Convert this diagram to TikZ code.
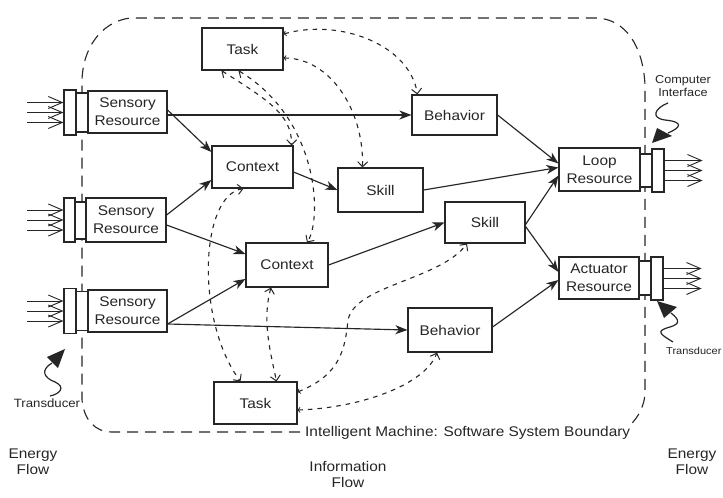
\documentclass[tikz,border=0pt]{standalone}
\usepackage{fontspec}
\setmainfont{Liberation Sans}[FakeStretch=1.1]
\usetikzlibrary{arrows.meta,calc}
\definecolor{ink}{gray}{0.15}
\begin{document}
\begin{tikzpicture}[x=1pt,y=-1pt,
  box/.style={draw=ink,line width=1.15pt,fill=white,inner sep=0pt,align=center,
              text=ink,font=\fontsize{14}{18}\selectfont},
  port/.style={draw=ink,line width=1.15pt,fill=white,inner sep=0pt},
  flow/.style={draw=ink,line width=1.15pt,-{Stealth[length=12pt,width=9pt,inset=3.5pt]}},
  ctl/.style={draw=ink,line width=1.1pt,dash pattern=on 4.5pt off 5pt},
  vee/.tip={Straight Barb[length=5pt,width=10pt,line width=1pt]},
  tick/.tip={Straight Barb[length=2pt,width=5pt,line width=0.8pt]},
  energy/.style={draw=ink,line width=1pt,-{Straight Barb[length=14pt,width=12pt,line width=0.9pt]}},
  bnd/.style={draw=ink,line width=1.1pt,dash pattern=on 11pt off 7pt},
  lbl/.style={text=ink,inner sep=0pt,align=center,font=\fontsize{14}{16}\selectfont},
  small/.style={text=ink,inner sep=0pt,align=center,font=\fontsize{11.5}{12.5}\selectfont},
  squig/.style={draw=ink,line width=1.2pt}]

\useasboundingbox (0,0) rectangle (723,498);
\fill[white] (0,0) rectangle (723,498);

% system boundary
\draw[bnd] (300,432) -- (112,432) .. controls (95,432) and (84,420) .. (82,400)
  -- (82,82) .. controls (82,50) and (100,22) .. (130,18) -- (598,18)
  .. controls (625,20) and (643,45) .. (645,85) -- (645,392)
  .. controls (645,405) and (638,418) .. (630,425);
\node[lbl,anchor=west] (sysb) at (305,433) {Intelligent Machine: Software System Boundary};

% sensory resources with their interfaces
\node[box,minimum width=79pt,minimum height=42pt] (sens1) at (127.5,112) {Sensory\\Resource};
\node[port,minimum width=12pt,minimum height=45pt] (s1a) at (70,112.5) {};
\node[port,minimum width=12pt,minimum height=39pt] (s1b) at (82,112.5) {};
\node[box,minimum width=80pt,minimum height=44pt] (sens2) at (126,220) {Sensory\\Resource};
\node[port,minimum width=11pt,minimum height=44pt] (s2a) at (69.5,220) {};
\node[port,minimum width=11pt,minimum height=37pt] (s2b) at (80.5,220.5) {};
\node[box,minimum width=79pt,minimum height=42pt] (sens3) at (127.5,311) {Sensory\\Resource};
\node[port,minimum width=12pt,minimum height=45pt] (s3a) at (70,311) {};
\node[port,minimum width=12pt,minimum height=39pt] (s3b) at (82,311) {};

% processing elements
\node[box,minimum width=81pt,minimum height=42pt] (taskA) at (242.5,49) {Task};
\node[box,minimum width=81pt,minimum height=42pt] (ctx1) at (252.5,167) {Context};
\node[box,minimum width=85pt,minimum height=44pt] (skill1) at (380.5,190) {Skill};
\node[box,minimum width=85pt,minimum height=40pt] (beh1) at (454.5,115) {Behavior};
\node[box,minimum width=82pt,minimum height=44pt] (ctx2) at (287,265) {Context};
\node[box,minimum width=80pt,minimum height=41pt] (skill2) at (485,222.5) {Skill};
\node[box,minimum width=84pt,minimum height=44pt] (beh2) at (450,330) {Behavior};
\node[box,minimum width=83pt,minimum height=42pt] (taskB) at (255.5,403) {Task};

% output resources with their interfaces
\node[box,minimum width=81pt,minimum height=43pt] (loop) at (599.5,169.5) {Loop\\Resource};
\node[port,minimum width=12pt,minimum height=33pt] (l1) at (646,170.5) {};
\node[port,minimum width=12pt,minimum height=43pt] (l2) at (658,170.5) {};
\node[box,minimum width=80pt,minimum height=42pt] (act) at (599,278) {Actuator\\Resource};
\node[port,minimum width=12pt,minimum height=34pt] (a1) at (645,278) {};
\node[port,minimum width=12pt,minimum height=43pt] (a2) at (657,278.5) {};

% energy flowing in and out
\foreach \p in {s1a,s2a,s3a}
  \foreach \d in {-10,0,10}
    \draw[energy] ([xshift=-36pt,yshift=\d pt]\p.west) -- ([yshift=\d pt]\p.west);
\foreach \p in {l2,a2}
  \foreach \d in {-10,0,10}
    \draw[energy] ([yshift=\d pt]\p.east) -- ([xshift=38pt,yshift=\d pt]\p.east);

% information flow
\draw[flow] (sens1.east |- beh1.west) -- (beh1.west);
\draw[flow] ([yshift=2pt]sens1.east) -- ([yshift=15pt]ctx1.west);
\draw[flow] ([yshift=5pt]sens2.east) -- ([yshift=-13pt]ctx1.west);
\draw[flow] ([yshift=-5pt]sens2.east) -- ([yshift=11pt]ctx2.west);
\draw[flow] ([yshift=-13pt]sens3.east) -- ([yshift=-14pt]ctx2.west);
\draw[flow] ([yshift=-13pt]sens3.east) -- (beh2.west);
\draw[flow] ([yshift=-5pt]ctx1.east) -- (skill1.west);
\draw[flow] (ctx2.east) -- (skill2.west);
\draw[flow] (beh1.east) -- ([yshift=6pt]loop.west);
\draw[flow] (skill1.east) -- ([yshift=2pt]loop.west);
\draw[flow] ([yshift=-2pt]skill2.east) -- ([yshift=-6pt]loop.west);
\draw[flow] ([yshift=-4pt]skill2.east) -- ([yshift=6pt]act.west);
\draw[flow] ([yshift=3pt]beh2.east) -- ([yshift=-2pt]act.west);

% task coordination links
\draw[ctl,{tick}-{vee}] ([yshift=15pt]taskA.east) .. controls (340,18) and (410,45) .. ([xshift=6pt]beh1.north west);
\draw[ctl,{tick}-{vee}] ([yshift=-9pt]taskA.east) .. controls (330,58) and (364,110) .. ([xshift=-18pt]skill1.north);
\draw[ctl,{vee}-{vee}] ([xshift=20pt]taskA.south west) .. controls (268,100) and (292,115) .. ([xshift=-2pt]ctx1.north east);
\draw[ctl,{vee}-{vee}] ([xshift=37pt]taskA.south west) .. controls (320,120) and (322,220) .. ([xshift=20pt]ctx2.north);
\draw[ctl,{vee}-{vee}] ([xshift=-9pt]ctx1.south) .. controls (200,195) and (195,320) .. ([xshift=-15pt]taskB.north);
\draw[ctl,{vee}-{vee}] ([xshift=-16pt]ctx2.south) .. controls (262,320) and (270,350) .. ([xshift=21pt]taskB.north);
\draw[ctl,{tick}-{vee}] ([yshift=11pt]taskB.east) .. controls (340,375) and (345,350) .. (348,320)
  .. controls (355,285) and (440,280) .. ([xshift=-18pt]skill2.south);
\draw[ctl,{tick}-{vee}] ([yshift=-7pt]taskB.east) .. controls (360,408) and (425,385) .. ([xshift=-13pt]beh2.south);

% transducers and computer interface
\coordinate (tl) at (65,349);
\fill[ink] (tl) -- (47,357) -- (58,368) -- cycle;
\draw[squig] (52,363) .. controls (40,370) and (44,378) .. (55,382) .. controls (66,387) and (60,394) .. (50,396);
\node[small,font=\fontsize{12}{13}\selectfont] (trl) at (47,403) {Transducer};

\coordinate (tr) at (657,301);
\fill[ink] (tr) -- (677,307) -- (664,318) -- cycle;
\draw[squig] (671,313) .. controls (680,320) and (680,324) .. (670,327)
  .. controls (655,331) and (660,334) .. (673,342);
\node[small,font=\fontsize{10}{11}\selectfont,anchor=west] (trr) at (666,351) {Transducer};

\node[small] (ci) at (683,86) {Computer\\Interface};
\coordinate (tc) at (652,143);
\fill[ink] (tc) -- (657,128) -- (672,136) -- cycle;
\draw[squig] (668,103) .. controls (655,108) and (650,118) .. (665,120)
  .. controls (685,122) and (680,128) .. (668,133);

% flow captions
\node[lbl] (ef1) at (33,462) {Energy\\Flow};
\node[lbl] (inf) at (348,474) {Information\\Flow};
\node[lbl] (ef2) at (692,462) {Energy\\Flow};
\end{tikzpicture}
\end{document}
